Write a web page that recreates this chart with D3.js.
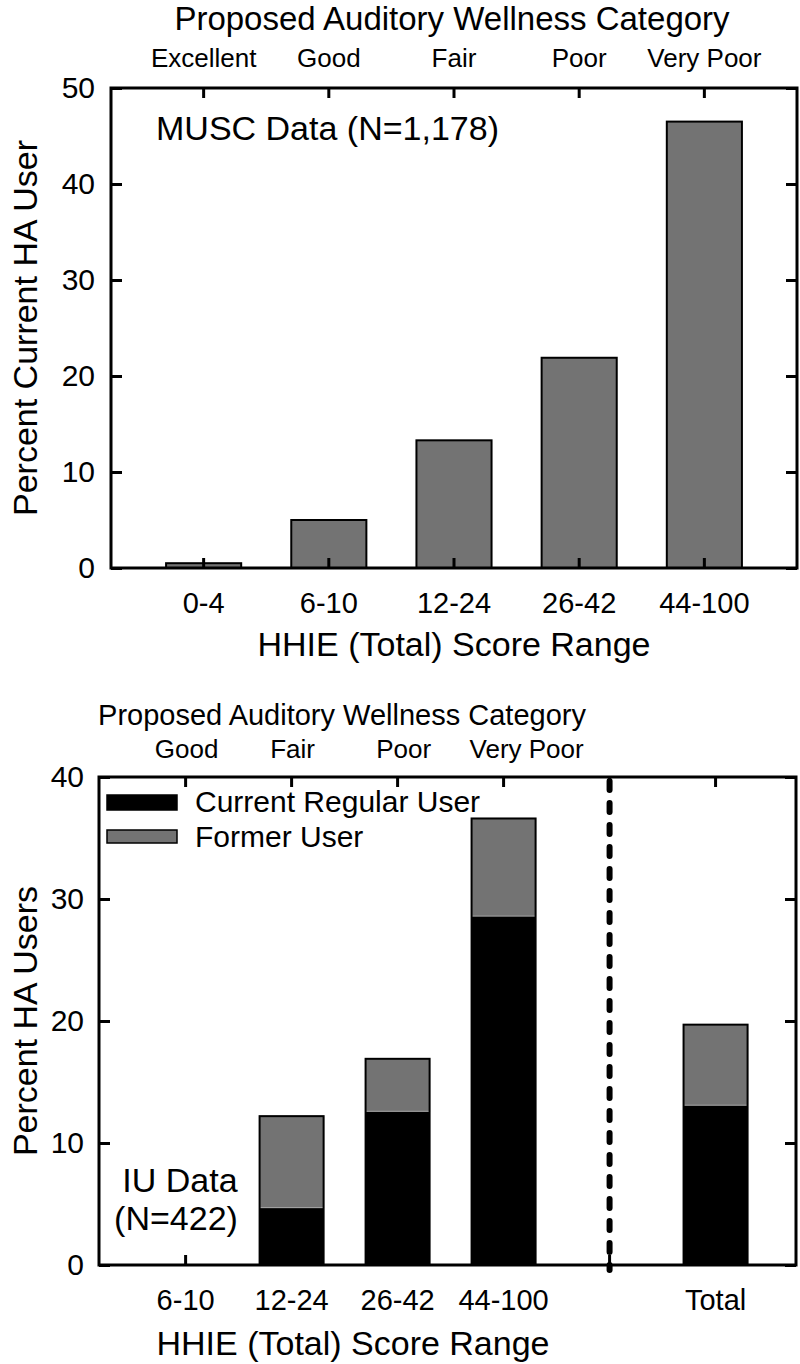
<!DOCTYPE html>
<html>
<head>
<meta charset="utf-8">
<script src="https://cdnjs.cloudflare.com/ajax/libs/d3/7.8.5/d3.min.js"></script>
<style>
  body { margin: 0; background: #fff; }
  svg text { font-family: "Liberation Sans", Arial, sans-serif; fill: #000; }
  .axis path { display: none; }
  .axis line { stroke: #000; stroke-width: 3; }
</style>
</head>
<body>
<svg id="chart" width="800" height="1364"></svg>
<script>
//*************** data ******************//

// top panel: MUSC data
var muscRanges = ["0-4", "6-10", "12-24", "26-42", "44-100"];
var muscCategories = ["Excellent", "Good", "Fair", "Poor", "Very Poor"];
var muscPercent = [0.5, 5.0, 13.3, 21.9, 46.5];
var muscTicks = [0, 10, 20, 30, 40, 50];

// bottom panel: IU data
var iuRanges = ["6-10", "12-24", "26-42", "44-100", "Total"];
var iuCategories = ["Good", "Fair", "Poor", "Very Poor"];
var iuCurrent = [0, 4.7, 12.6, 28.6, 13.1];
var iuFormer = [0, 7.5, 4.3, 8.0, 6.6];
var iuTicks = [0, 10, 20, 30, 40];
var iuSeries = ["Current Regular User", "Former User"];

var grey = "#737373";
var svg = d3.select("svg#chart");

//*************** top panel ******************//

var top1 = {left: 111, right: 797, top: 88, bottom: 568};

var x1 = d3.scaleBand()
  .domain(muscRanges)
  .range([top1.left, top1.right])
  .paddingInner(0.4)
  .paddingOuter(0.44)
  .align(0.5);

var y1 = d3.scaleLinear().domain([0, 50]).range([top1.bottom, top1.top]);

var g1 = svg.append("g").attr("id", "panel-musc");

// bars
g1.selectAll("rect.bar")
  .data(muscPercent)
  .enter().append("rect")
  .attr("class", "bar")
  .attr("x", function(d, i) { return x1(muscRanges[i]); })
  .attr("y", function(d) { return y1(d); })
  .attr("width", x1.bandwidth())
  .attr("height", function(d) { return y1(0) - y1(d); })
  .attr("fill", grey)
  .attr("stroke", "#000")
  .attr("stroke-width", 2);

// left axis
g1.append("g")
  .attr("class", "axis")
  .attr("transform", "translate(" + top1.left + ",0)")
  .call(d3.axisLeft(y1).tickValues(muscTicks).tickSize(-11).tickPadding(16))
  .selectAll("text").style("font-size", "30px");

// right axis (ticks only)
g1.append("g")
  .attr("class", "axis")
  .attr("transform", "translate(" + top1.right + ",0)")
  .call(d3.axisRight(y1).tickValues(muscTicks).tickSize(-11).tickFormat(""));

// top axis with wellness categories
g1.append("g")
  .attr("class", "axis")
  .attr("transform", "translate(0," + top1.top + ")")
  .call(d3.axisTop(x1).tickSize(-10).tickPadding(21)
    .tickFormat(function(d, i) { return muscCategories[i]; }))
  .selectAll("text").style("font-size", "26px");

// bottom axis with score ranges
g1.append("g")
  .attr("class", "axis")
  .attr("transform", "translate(0," + top1.bottom + ")")
  .call(d3.axisBottom(x1).tickSize(-10).tickPadding(24))
  .selectAll("text").style("font-size", "29px");

// frame
g1.append("rect")
  .attr("x", top1.left).attr("y", top1.top)
  .attr("width", top1.right - top1.left)
  .attr("height", top1.bottom - top1.top)
  .attr("fill", "none")
  .attr("stroke", "#000")
  .attr("stroke-width", 3);

// titles
g1.append("text")
  .attr("x", (top1.left + top1.right) / 2 - 2)
  .attr("y", 30)
  .attr("text-anchor", "middle")
  .style("font-size", "33px")
  .text("Proposed Auditory Wellness Category");

g1.append("text")
  .attr("x", (top1.left + top1.right) / 2)
  .attr("y", 656)
  .attr("text-anchor", "middle")
  .style("font-size", "34px")
  .text("HHIE (Total) Score Range");

g1.append("text")
  .attr("transform", "translate(37," + (top1.top + top1.bottom) / 2 + ") rotate(-90)")
  .attr("text-anchor", "middle")
  .style("font-size", "34px")
  .text("Percent Current HA User");

g1.append("text")
  .attr("x", 156)
  .attr("y", 140)
  .style("font-size", "34px")
  .text("MUSC Data (N=1,178)");

//*************** bottom panel ******************//

var bot = {left: 99, right: 796, top: 777, bottom: 1265};

// slots: the four ranges, an empty slot holding the divider, then Total
var slots = iuRanges.slice(0, 4).concat(["divider"], iuRanges.slice(4));

var x2 = d3.scaleBand()
  .domain(slots)
  .range([bot.left, bot.right])
  .paddingInner(0.396)
  .paddingOuter(0.486)
  .align(0.53);

var y2 = d3.scaleLinear().domain([0, 40]).range([bot.bottom, bot.top]);

var g2 = svg.append("g").attr("id", "panel-iu");

// stacked data
var iuData = iuRanges.map(function(r, i) {
  return {range: r, current: iuCurrent[i], former: iuFormer[i]};
}).filter(function(d) { return d.current + d.former > 0; });

var stack = d3.stack().keys(["current", "former"])(iuData);
var fills = {current: "#000", former: grey};

g2.selectAll("g.layer")
  .data(stack)
  .enter().append("g")
  .attr("class", "layer")
  .attr("fill", function(s) { return fills[s.key]; })
  .attr("stroke", function(s) { return s.key === "former" ? "#a5a5a5" : "none"; })
  .selectAll("rect")
  .data(function(s) { return s; })
  .enter().append("rect")
  .attr("x", function(d) { return x2(d.data.range); })
  .attr("y", function(d) { return y2(d[1]); })
  .attr("width", x2.bandwidth())
  .attr("height", function(d) { return y2(d[0]) - y2(d[1]); });

// outline round each stack
g2.selectAll("rect.outline")
  .data(iuData)
  .enter().append("rect")
  .attr("class", "outline")
  .attr("x", function(d) { return x2(d.range); })
  .attr("y", function(d) { return y2(d.current + d.former); })
  .attr("width", x2.bandwidth())
  .attr("height", function(d) { return y2(0) - y2(d.current + d.former); })
  .attr("fill", "none")
  .attr("stroke", "#000")
  .attr("stroke-width", 2);

// dashed divider
g2.append("line")
  .attr("x1", x2("divider") + x2.bandwidth() / 2)
  .attr("x2", x2("divider") + x2.bandwidth() / 2)
  .attr("y1", bot.top + 4)
  .attr("y2", bot.bottom + 5)
  .attr("stroke", "#000")
  .attr("stroke-width", 6)
  .attr("stroke-linecap", "round")
  .attr("stroke-dasharray", "9,13");

// left axis
g2.append("g")
  .attr("class", "axis")
  .attr("transform", "translate(" + bot.left + ",0)")
  .call(d3.axisLeft(y2).tickValues(iuTicks).tickSize(-11).tickPadding(15))
  .selectAll("text").style("font-size", "30px");

// right axis (ticks only)
g2.append("g")
  .attr("class", "axis")
  .attr("transform", "translate(" + bot.right + ",0)")
  .call(d3.axisRight(y2).tickValues(iuTicks).tickSize(-11).tickFormat(""));

// top axis with wellness categories (labels sit a little right of the ticks)
var labelShift = [1, 1, 6, 23];
g2.append("g")
  .attr("class", "axis")
  .attr("transform", "translate(0," + bot.top + ")")
  .call(d3.axisTop(x2).tickSize(-10).tickPadding(19)
    .tickFormat(function(d, i) { return iuCategories[i] || ""; }))
  .selectAll("text")
  .attr("dx", function(d, i) { return labelShift[i] || 0; })
  .style("font-size", "26px");

// bottom axis with score ranges
g2.append("g")
  .attr("class", "axis")
  .attr("transform", "translate(0," + bot.bottom + ")")
  .call(d3.axisBottom(x2).tickSize(-10).tickPadding(24)
    .tickFormat(function(d) { return d === "divider" ? "" : d; }))
  .selectAll("text").style("font-size", "29px");

// frame
g2.append("rect")
  .attr("x", bot.left).attr("y", bot.top)
  .attr("width", bot.right - bot.left)
  .attr("height", bot.bottom - bot.top)
  .attr("fill", "none")
  .attr("stroke", "#000")
  .attr("stroke-width", 3);

// legend
var legend = g2.append("g").attr("class", "legend");
var legendY = [795, 830];
iuSeries.forEach(function(name, i) {
  legend.append("rect")
    .attr("x", 107).attr("y", legendY[i])
    .attr("width", 70).attr("height", i === 0 ? 15 : 13)
    .attr("fill", i === 0 ? "#000" : grey)
    .attr("stroke", "#000")
    .attr("stroke-width", 1.5);
  legend.append("text")
    .attr("x", 195).attr("y", legendY[i] + 17)
    .style("font-size", "30px")
    .text(name);
});

// titles
g2.append("text")
  .attr("x", 342)
  .attr("y", 725)
  .attr("text-anchor", "middle")
  .style("font-size", "29px")
  .text("Proposed Auditory Wellness Category");

g2.append("text")
  .attr("x", 353)
  .attr("y", 1355)
  .attr("text-anchor", "middle")
  .style("font-size", "34px")
  .text("HHIE (Total) Score Range");

g2.append("text")
  .attr("transform", "translate(37," + (bot.top + bot.bottom) / 2 + ") rotate(-90)")
  .attr("text-anchor", "middle")
  .style("font-size", "34px")
  .text("Percent HA Users");

g2.append("text")
  .attr("x", 180).attr("y", 1192)
  .attr("text-anchor", "middle")
  .style("font-size", "34px")
  .text("IU Data");

g2.append("text")
  .attr("x", 176).attr("y", 1230)
  .attr("text-anchor", "middle")
  .style("font-size", "34px")
  .text("(N=422)");
</script>
</body>
</html>
